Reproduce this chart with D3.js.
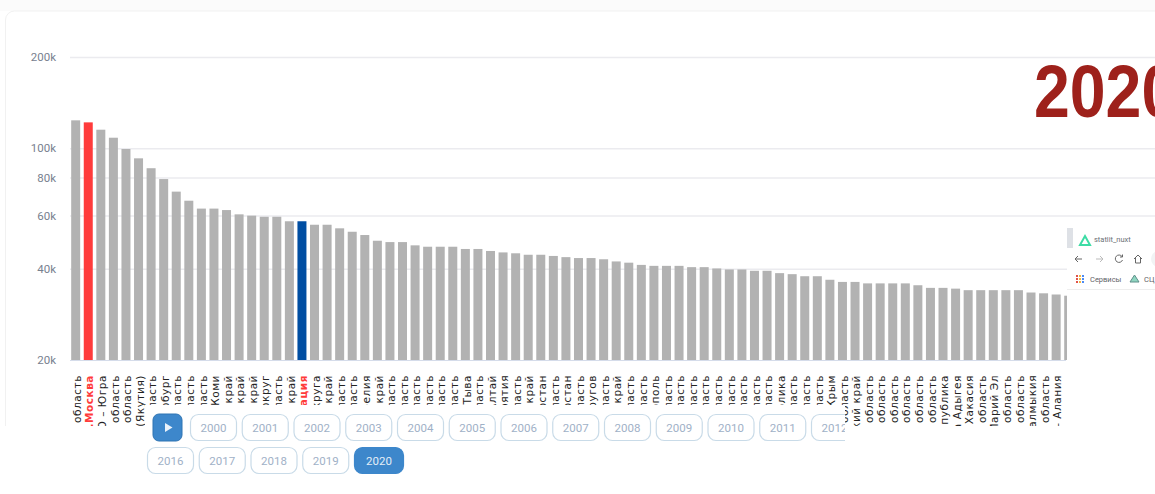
<!DOCTYPE html>
<html>
<head>
<meta charset="utf-8">
<script src="https://cdn.jsdelivr.net/npm/d3@7"></script>
<style>
  html, body { margin: 0; padding: 0; background: #fff; overflow: hidden; }
  svg { display: block; }
</style>
</head>
<body>
<div id="chart"></div>
<script>
// Regions, sorted the way the chart sorts them
const regions = [
  "Сахалинская область", "г.Москва", "Ханты-Мансийский АО – Югра", "Магаданская область", "Тюменская область",
  "Республика Саха (Якутия)", "Московская область", "г.Санкт-Петербург", "Мурманская область", "Амурская область",
  "Ленинградская область", "Республика Коми", "Камчатский край", "Хабаровский край", "Приморский край",
  "Чукотский автономный округ", "Свердловская область", "Пермский край", "Российская Федерация", "Дальневосточного округа",
  "Красноярский край", "Самарская область", "Иркутская область", "Республика Карелия", "Забайкальский край",
  "Томская область", "Белгородская область", "Калужская область", "Тульская область", "Воронежская область",
  "Липецкая область", "Республика Тыва", "Омская область", "Республика Алтай", "Республика Бурятия",
  "Кемеровская область", "Алтайский край", "Республика Башкортостан", "Рязанская область", "Республика Татарстан",
  "Нижегородская область", "Ненецкий округов", "Ярославская область", "Краснодарский край", "Тверская область",
  "Вологодская область", "г.Севастополь", "Архангельская область", "Челябинская область", "Новгородская область",
  "Калининградская область", "Смоленская область", "Владимирская область", "Астраханская область", "Оренбургская область",
  "Брянская область", "Удмуртская Республика", "Курская область", "Псковская область", "Тамбовская область",
  "Республика Крым", "Волгоградская область", "Ставропольский край", "Саратовская область", "Ростовская область",
  "Пензенская область", "Ульяновская область", "Ивановская область", "Костромская область", "Чувашская Республика",
  "Республика Адыгея", "Республика Хакасия", "Кировская область", "Республика Марий Эл", "Курганская область",
  "Орловская область", "Республика Калмыкия", "Новосибирская область", "Северная Осетия – Алания", "Республика Мордовия"
];

// Values for 2020
const values = [
  123600, 121700, 115100, 108300, 99400, 92600, 85900, 79100, 71900, 67100,
  63200, 63200, 62500, 60500, 59900, 59400, 59400, 57400, 57400, 55900,
  55900, 54400, 53000, 51700, 49500, 49000, 49000, 47800, 47300, 47300,
  47300, 46500, 46500, 45800, 45300, 45000, 44500, 44500, 44100, 43700,
  43400, 43400, 43000, 42300, 41900, 41200, 40900, 40900, 40900, 40500,
  40500, 40100, 39800, 39800, 39400, 39400, 38700, 38400, 37800, 37800,
  36800, 36200, 36200, 35800, 35800, 35800, 35800, 35300, 34600, 34600,
  34400, 34000, 34000, 34000, 34000, 34000, 33400, 33200, 32900, 32600
];

const yTicks = [20000, 40000, 60000, 80000, 100000, 200000];
const row1Years = ["2000", "2001", "2002", "2003", "2004", "2005", "2006", "2007", "2008", "2009", "2010", "2011", "2012"];
const row2Years = ["2016", "2017", "2018", "2019", "2020"];
const currentYear = "2020";
const moscow = "г.Москва";
const russia = "Российская Федерация";

const width = 1155, height = 494;
const svg = d3.select("#chart").append("svg")
  .attr("width", width)
  .attr("height", height);

// Page background and card
svg.append("rect").attr("width", width).attr("height", 11).attr("fill", "#fbfbfb");
svg.append("path")
  .attr("d", "M5.5,426V20a9,9 0 0 1 9,-9H1155")
  .attr("fill", "#fff")
  .attr("stroke", "#f1f1f1");

const x = d3.scaleBand()
  .domain(regions)
  .range([69.4, 1075])
  .paddingInner(0.284)
  .paddingOuter(0.142);

const y = d3.scaleLog()
  .domain([20000, 200000])
  .range([360, 57]);

// Y axis, the ticks double as grid lines
const yAxis = svg.append("g")
  .attr("transform", "translate(70,0)")
  .call(d3.axisLeft(y)
    .tickValues(yTicks)
    .tickFormat(d3.format("~s"))
    .tickSize(-1085)
    .tickPadding(14));
yAxis.select(".domain").remove();
yAxis.selectAll("line").attr("stroke", d => d === 20000 ? "none" : "#ebebef").attr("stroke-width", 1.5);
yAxis.selectAll("text")
  .attr("fill", "#78818f")
  .style("font", "11.5px Roboto, sans-serif");

// Bars
svg.append("g")
  .selectAll("rect")
  .data(regions)
  .join("rect")
  .attr("x", d => x(d))
  .attr("width", x.bandwidth())
  .attr("y", (d, i) => y(values[i]))
  .attr("height", (d, i) => y(20000) - y(values[i]))
  .attr("fill", d => d === moscow ? "#ff3b3b" : d === russia ? "#004ea2" : "#b2b2b2");

// Baseline
svg.append("line")
  .attr("x1", 70).attr("x2", 1066)
  .attr("y1", 360.5).attr("y2", 360.5)
  .attr("stroke", "#d5dcea")
  .attr("stroke-width", 1);

// X axis labels, rotated, cut off by the white block of the buttons
const xAxis = svg.append("g")
  .attr("transform", "translate(0,360)")
  .call(d3.axisBottom(x).tickSize(0).tickPadding(0));
xAxis.select(".domain").remove();
xAxis.selectAll("text")
  .attr("transform", "translate(1.5,15) rotate(-90)")
  .attr("x", 0)
  .attr("y", 0)
  .attr("dy", "0.35em")
  .attr("text-anchor", "end")
  .attr("fill", d => d === moscow || d === russia ? "#ff3b3b" : "#222")
  .attr("font-weight", d => d === moscow || d === russia ? "bold" : null)
  .style("font", null)
  .style("font-family", "'DejaVu Sans', sans-serif")
  .style("font-size", "10.5px")
  .style("letter-spacing", "0.55px");

// White blocks the labels disappear under
svg.append("rect").attr("x", 0).attr("y", 426).attr("width", width).attr("height", 68).attr("fill", "#fff");
svg.append("rect").attr("x", 145).attr("y", 405).attr("width", 700).attr("height", 89).attr("fill", "#fff");
svg.append("rect").attr("x", 1064).attr("y", 362).attr("width", 4).attr("height", 66).attr("fill", "#fff");

// Big year
svg.append("text")
  .attr("transform", "translate(1034,116.5) scale(0.87,1)")
  .attr("fill", "#9e211b")
  .attr("font-family", "'Liberation Sans Narrow', 'Liberation Sans', sans-serif")
  .attr("font-weight", "bold")
  .attr("font-size", 74)
  .text(currentYear);

// Player buttons
const btnClip = svg.append("clipPath").attr("id", "btn-clip")
  .append("rect").attr("x", 140).attr("y", 405).attr("width", 705).attr("height", 89);
const buttons = svg.append("g").attr("clip-path", "url(#btn-clip)");

function drawButton(bx, by, w, label, active) {
  const g = buttons.append("g").attr("transform", `translate(${bx},${by})`);
  g.append("rect")
    .attr("x", 0.5).attr("y", 0.5)
    .attr("width", w).attr("height", 26)
    .attr("rx", 8)
    .attr("fill", active ? "#3d87cb" : "#fff")
    .attr("stroke", active ? "#3d87cb" : "#c9dbe8")
    .attr("stroke-width", 1.2);
  g.append("text")
    .attr("x", w / 2 + 0.5).attr("y", 18)
    .attr("text-anchor", "middle")
    .attr("fill", active ? "#e3edf7" : "#9fb1c7")
    .attr("font-family", "Roboto, sans-serif")
    .attr("font-size", 11.5)
    .text(label);
}

// play button
const play = buttons.append("g").attr("transform", "translate(153,414)");
play.append("rect").attr("width", 29).attr("height", 27).attr("rx", 6).attr("fill", "#3d87cb").attr("stroke", "#2f74b3");
play.append("path").attr("d", "M12,9L19.5,13.5L12,18Z").attr("fill", "#eaf2fa");

row1Years.forEach((yr, i) => drawButton(190 + i * 51.75, 414, 46, yr, yr === currentYear));
row2Years.forEach((yr, i) => drawButton(147 + i * 51.75, 447, i === 4 ? 49 : 46, yr, yr === currentYear));

// Pasted browser screenshot over the right edge of the chart
const shot = svg.append("g").attr("transform", "translate(1067,228)");
shot.append("rect").attr("width", 88).attr("height", 266).attr("fill", "#fff");
shot.append("rect").attr("width", 6).attr("height", 20).attr("fill", "#dee1e6");
shot.append("path").attr("d", "M13,17L18,8L23,17Z").attr("fill", "none").attr("stroke", "#3ddca5").attr("stroke-width", 2);
shot.append("text").attr("x", 27).attr("y", 13.5).attr("font-family", "Roboto, sans-serif").attr("font-size", 7.5).attr("fill", "#6b7076").text("statlit_nuxt");
// nav icons
shot.append("path").attr("d", "M15,31H8M11,28L8,31L11,34").attr("fill", "none").attr("stroke", "#666").attr("stroke-width", 1);
shot.append("path").attr("d", "M29,31H36M33,28L36,31L33,34").attr("fill", "none").attr("stroke", "#bbb").attr("stroke-width", 1);
shot.append("path").attr("d", "M55,28.5A3.7,3.7 0 1 0 55.5,32M55.5,26.5V29H53").attr("fill", "none").attr("stroke", "#666").attr("stroke-width", 1);
shot.append("path").attr("d", "M67,31L71,27L75,31M68.5,30V35H73.5V30").attr("fill", "none").attr("stroke", "#666").attr("stroke-width", 1);
shot.append("circle").attr("cx", 92).attr("cy", 31).attr("r", 8).attr("fill", "#f1f3f4");
// bookmarks bar
const dots = ["#e0524a", "#f3b63f", "#4c8bf5", "#57b06a"];
d3.range(9).forEach(i => {
  shot.append("rect")
    .attr("x", 9 + (i % 3) * 3).attr("y", 47 + Math.floor(i / 3) * 3)
    .attr("width", 2).attr("height", 2)
    .attr("fill", dots[(i + Math.floor(i / 3)) % 4]);
});
shot.append("text").attr("x", 23).attr("y", 54).attr("font-family", "Roboto, sans-serif").attr("font-size", 7.5).attr("fill", "#5f6368").text("Сервисы");
shot.append("path").attr("d", "M63,54L67.5,47L72,54Z").attr("fill", "#8fd6c0").attr("stroke", "#5f8f8a");
shot.append("text").attr("x", 77).attr("y", 54).attr("font-family", "Roboto, sans-serif").attr("font-size", 7.5).attr("fill", "#5f6368").text("СЦ");
shot.append("line").attr("x1", 0).attr("x2", 88).attr("y1", 61.5).attr("y2", 61.5).attr("stroke", "#eeeeee");
</script>
</body>
</html>
